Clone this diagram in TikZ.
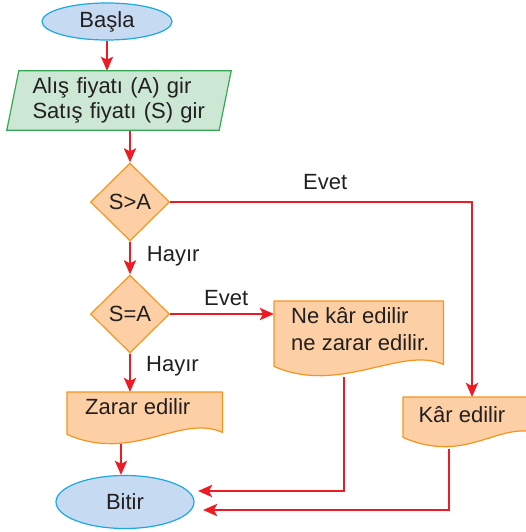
\documentclass[tikz,border=0pt]{standalone}
\usepackage{fontspec}
\setmainfont{Liberation Sans}
\usetikzlibrary{shapes.geometric,arrows.meta}
\definecolor{ared}{HTML}{ED1C24}
\definecolor{efill}{HTML}{C6DAF1}
\definecolor{eline}{HTML}{1BA9E1}
\definecolor{gfill}{HTML}{CCE8D5}
\definecolor{gline}{HTML}{35A853}
\definecolor{ofill}{HTML}{FCD0A4}
\definecolor{oline}{HTML}{F7941D}
\definecolor{txtc}{HTML}{231F20}
\pgfdeclarelayer{conn}
\pgfdeclarelayer{shp}
\pgfsetlayers{conn,shp,main}
\tikzset{
  every node/.style={text=txtc},
  term/.style={ellipse,draw=eline,fill=efill,line width=1.2pt,inner sep=0pt},
  dec/.style={diamond,aspect=1,draw=oline,fill=ofill,line width=1.2pt,inner sep=0pt,minimum width=79pt,minimum height=78pt},
  boxarea/.style={rectangle,draw=none,inner sep=0pt,anchor=north west},
  docst/.style={draw=oline,fill=ofill,line width=1.2pt,line join=round},
  iost/.style={draw=gline,fill=gfill,line width=1.2pt},
  txt/.style={inner sep=0pt,anchor=base west},
  arr/.style={draw=ared,line width=2.7pt,-{Stealth[length=14pt,width=12pt,inset=3pt]}},
  ln/.style={draw=ared,line width=2.7pt}
}
\newcommand\docshape[1]{\path[docst] (#1.north west) -- (#1.north east) -- (#1.south east)
  .. controls +(-42,-19) and +(66,29) .. ([yshift=-2pt]#1.south west) -- cycle;}
\begin{document}
\begin{tikzpicture}[x=1pt,y=-1pt,font=\fontsize{22}{25}\selectfont]
\useasboundingbox (0,0) rectangle (526,532);
\clip (0,0) rectangle (526,532);
% terminals
\node[term,minimum width=130pt,minimum height=37pt] (basla) at (107,21.5) {Başla};
\node[term,minimum width=138pt,minimum height=53pt] (bitir) at (125,502) {Bitir};
% input
\node[rectangle,inner xsep=19.3pt,inner ysep=0pt,minimum width=212pt,minimum height=59pt,text width=173pt,align=left] (inp) at (119,100.5) {Alış fiyatı (A) gir\\Satış fiyatı (S) gir};
\begin{pgfonlayer}{shp}
\path[iost] ([xshift=6pt]inp.north west) -- ([xshift=6pt]inp.north east) -- ([xshift=-6pt]inp.south east) -- ([xshift=-6pt]inp.south west) -- cycle;
\end{pgfonlayer}
% decisions
\node[dec] (d1) at (130,202) {S>A};
\node[dec] (d2) at (130,314) {S=A};
% documents
\node[boxarea,minimum width=169pt,minimum height=63pt] (ne) at (274,301) {};
\node[boxarea,minimum width=155pt,minimum height=40pt] (zarar) at (67,392) {};
\node[boxarea,minimum width=140pt,minimum height=38pt] (kar) at (403,397) {};
\begin{pgfonlayer}{shp}
\docshape{ne}
\docshape{zarar}
\docshape{kar}
\end{pgfonlayer}
\node[txt] (net1) at (291,323.3) {Ne kâr edilir};
\node[txt] (net2) at (291,350) {ne zarar edilir.};
\node[txt] (zart) at (85,414.3) {Zarar edilir};
\node[txt] (kart) at (418.3,422.7) {Kâr edilir};
% labels
\node[txt] (evet1) at (303,189) {Evet};
\node[txt] (hayir1) at (146.7,261.5) {Hayır};
\node[txt] (evet2) at (204,305) {Evet};
\node[txt] (hayir2) at (146,371.7) {Hayır};
% helper coordinates
\coordinate (karin) at ([xshift=69pt]kar.north west);
\coordinate (neout) at ([shift={(70pt,-13pt)}]ne.south west);
\coordinate (karout) at ([shift={(46pt,-14pt)}]kar.south west);
\coordinate (zout) at ([shift={(54pt,-12pt)}]zarar.south west);
\coordinate (b1) at ([shift={(73pt,11pt)}]bitir.center);
\coordinate (b2) at ([shift={(78pt,-8pt)}]bitir.center);
% connectors
\begin{pgfonlayer}{conn}
\draw[arr] (basla.south) -- (basla.south |- inp.north);
\draw[arr] (d1.north |- inp.south) -- (d1.north);
\draw[arr] (d1.east) -| (karin);
\draw[arr] (d1.south) -- (d2.north);
\draw[arr] (d2.east) -- (d2.east -| ne.west);
\draw[arr] (d2.south) -- (d2.south |- zarar.north);
\draw[arr] (zout) -- (zout |- bitir.north);
\draw[arr] (neout) |- (b1);
\draw[arr] (karout) |- (b2);
\end{pgfonlayer}
\end{tikzpicture}
\end{document}
